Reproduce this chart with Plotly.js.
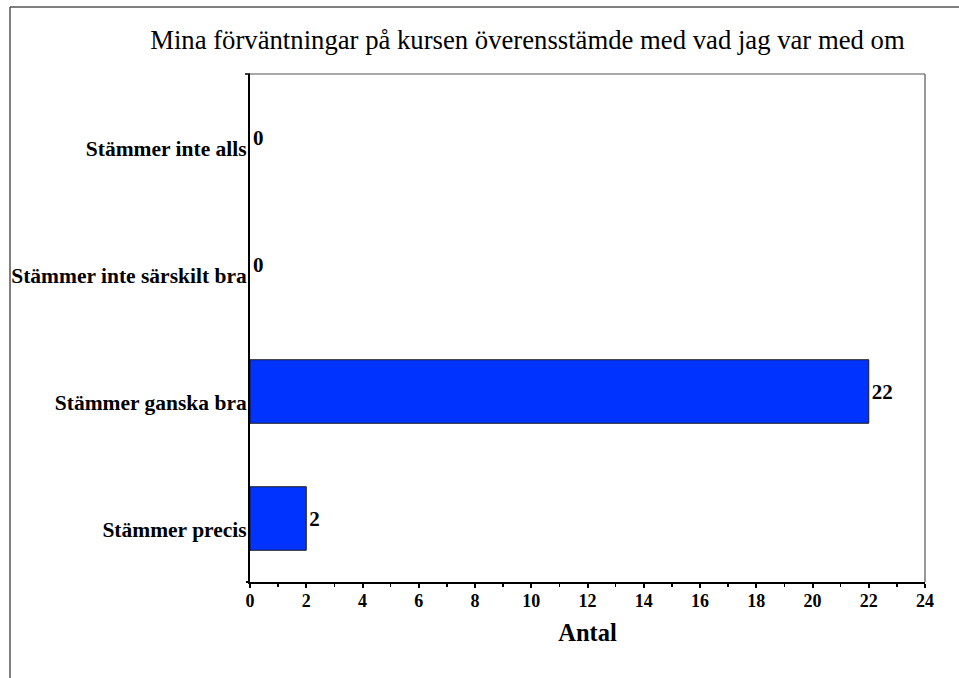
<!DOCTYPE html>
<html>
<head>
<meta charset="utf-8">
<script src="https://cdn.plot.ly/plotly-3.0.1.min.js"></script>
<style>html,body{margin:0;padding:0;background:#fff;}#chart{width:959px;height:678px;}</style>
</head>
<body>
<div id="chart"></div>
<script>
const categories = ["Stämmer inte alls", "Stämmer inte särskilt bra", "Stämmer ganska bra", "Stämmer precis"];
const counts = [0, 0, 22, 2];
const xTicks = [0, 2, 4, 6, 8, 10, 12, 14, 16, 18, 20, 22, 24];
const titleText = "Mina förväntningar på kursen överensstämde med vad jag var med om";
const xTitle = "Antal";

const serif = "'Liberation Serif', 'Times New Roman', serif";
const L = 250, R = 34, T = 74, B = 96;
const W = 959, H = 678;
const pw = W - L - R, ph = H - T - B;
const px = v => (v - L) / pw;
const py = v => (H - B - v) / ph;

const trace = {
  type: "bar",
  orientation: "h",
  y: categories,
  x: counts,
  width: 0.5,
  marker: {color: "#0033ff", line: {color: "#1a1a1a", width: counts.map(v => v > 0 ? 1 : 0)}},
  text: counts.map(String),
  textposition: "outside",
  cliponaxis: false,
  textfont: {family: serif, size: 21, color: "#000", weight: "bold"},
  hoverinfo: "none"
};

const layout = {
  width: W, height: H,
  margin: {l: L, r: R, t: T, b: B},
  paper_bgcolor: "#fff", plot_bgcolor: "#fff",
  showlegend: false,
  font: {family: serif, color: "#000"},
  title: {text: titleText, font: {family: serif, size: 26.7, color: "#000"}, xref: "container", x: 0.55, xanchor: "center", yref: "container", y: 1 - 40/H, yanchor: "middle"},
  xaxis: {
    range: [0, 24], tickvals: xTicks, ticktext: xTicks.map(String),
    ticks: "outside", ticklen: 4, tickwidth: 2, tickcolor: "#000",
    minor: {dtick: 1, ticks: "outside", ticklen: 3, tickwidth: 1.5, tickcolor: "#000"},
    showline: true, linecolor: "#000", linewidth: 2,
    showgrid: false, zeroline: false,
    ticklabelstandoff: -3,
    tickfont: {family: serif, size: 18, color: "#000", weight: "bold"},
    title: {text: xTitle, font: {family: serif, size: 24.5, color: "#000", weight: "bold"}, standoff: 14}
  },
  yaxis: {
    type: "category", autorange: "reversed",
    showline: true, linecolor: "#000", linewidth: 2,
    ticks: "", showgrid: false, zeroline: false,
    ticklabelstandoff: -3,
    ticklabelshift: -11,
    tickfont: {family: serif, size: 21.5, color: "#000", weight: "bold"}
  },
  shapes: [
    {type: "line", xref: "paper", yref: "paper", x0: 0, x1: 1, y0: 1, y1: 1, line: {color: "#555", width: 1.2}},
    {type: "line", xref: "paper", yref: "paper", x0: 1, x1: 1, y0: 0, y1: 1, line: {color: "#555", width: 1.2}},
    {type: "line", xref: "paper", yref: "paper", x0: px(10), x1: px(975), y0: py(7), y1: py(7), line: {color: "#555", width: 1.5}},
    {type: "line", xref: "paper", yref: "paper", x0: px(10), x1: px(10), y0: py(7), y1: py(690), line: {color: "#555", width: 1.5}},
    {type: "line", xref: "paper", yref: "paper", x0: px(245), x1: 0, y0: 1, y1: 1, line: {color: "#000", width: 1.5}},
    {type: "line", xref: "paper", yref: "paper", x0: px(246), x1: 0, y0: 0, y1: 0, line: {color: "#000", width: 2}}
  ]
};

Plotly.newPlot("chart", [trace], layout, {staticPlot: true, displayModeBar: false});
</script>
</body>
</html>
